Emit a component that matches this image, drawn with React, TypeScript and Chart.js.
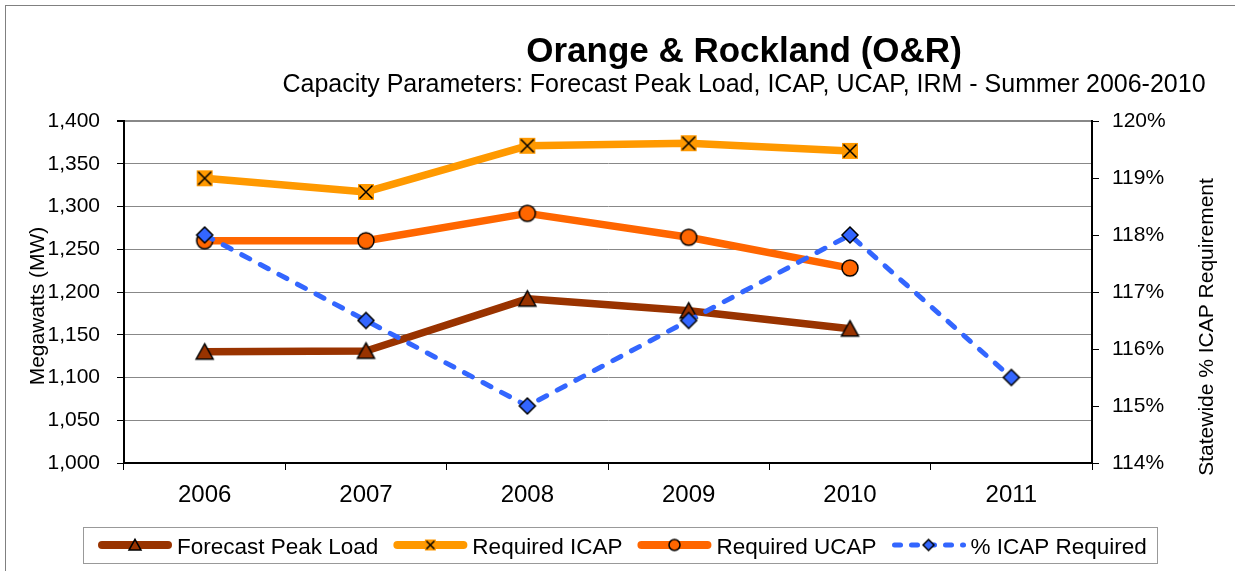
import React, { useEffect, useRef } from 'react';
import { Chart, registerables } from 'chart.js';

Chart.register(...registerables);

// ---------- data ----------
const categories = ['2006', '2007', '2008', '2009', '2010', '2011'];
const forecastPeakLoad = [1130, 1131, 1192, 1178, 1157, null];
const requiredICAP = [1333, 1317, 1371, 1374, 1365, null];
const requiredUCAP = [1260, 1260, 1292, 1264, 1228, null];
const icapRequiredPct = [118, 116.5, 115, 116.5, 118, 115.5];
const seriesNames = ['Forecast Peak Load', 'Required ICAP', 'Required UCAP', '% ICAP Required'];
const leftAxisRange = [1000, 1400];
const leftAxisStep = 50;
const rightAxisRange = [114, 120];
const rightAxisStep = 1;
const chartTitle = 'Orange & Rockland (O&R)';
const chartSubtitle = 'Capacity Parameters: Forecast Peak Load, ICAP, UCAP, IRM - Summer 2006-2010';
const leftAxisTitle = 'Megawatts (MW)';
const rightAxisTitle = 'Statewide % ICAP Requirement';

// ---------- style ----------
const FONT = '"Liberation Sans", Arial, Helvetica, sans-serif';
const BROWN = '#993300';
const ICAP_ORANGE = '#FF9900';
const UCAP_ORANGE = '#FF6600';
const BLUE = '#3366FF';
const W = 1235;
const H = 571;

type Kind = 'triangle' | 'squareX' | 'circle' | 'diamond';

function makeMarker(kind: Kind, size: number, fill: string, lw = 1.5): HTMLCanvasElement {
  const c = document.createElement('canvas');
  const dim = Math.ceil(size + 4);
  c.width = dim;
  c.height = dim;
  const ctx = c.getContext('2d')!;
  const cx = dim / 2;
  const cy = dim / 2;
  const h = size / 2;
  ctx.lineWidth = lw;
  ctx.strokeStyle = '#000';
  ctx.fillStyle = fill;
  ctx.lineJoin = 'miter';
  if (kind === 'triangle') {
    ctx.beginPath();
    ctx.moveTo(cx, cy - h * 0.95);
    ctx.lineTo(cx + h, cy + h * 0.85);
    ctx.lineTo(cx - h, cy + h * 0.85);
    ctx.closePath();
    ctx.fill();
    ctx.stroke();
  } else if (kind === 'circle') {
    ctx.beginPath();
    ctx.arc(cx, cy, h, 0, Math.PI * 2);
    ctx.fill();
    ctx.stroke();
  } else if (kind === 'diamond') {
    ctx.beginPath();
    ctx.moveTo(cx, cy - h);
    ctx.lineTo(cx + h, cy);
    ctx.lineTo(cx, cy + h);
    ctx.lineTo(cx - h, cy);
    ctx.closePath();
    ctx.fill();
    ctx.stroke();
  } else {
    ctx.fillRect(cx - h, cy - h, size, size);
    const k = h - 1.5;
    ctx.beginPath();
    ctx.moveTo(cx - k, cy - k);
    ctx.lineTo(cx + k, cy + k);
    ctx.moveTo(cx + k, cy - k);
    ctx.lineTo(cx - k, cy + k);
    ctx.stroke();
  }
  return c;
}

export default function App() {
  const ref = useRef<HTMLCanvasElement | null>(null);

  useEffect(() => {
    const canvas = ref.current;
    if (!canvas) return;

    const triImg = makeMarker('triangle', 17, BROWN);
    const xImg = makeMarker('squareX', 16, ICAP_ORANGE);
    const circImg = makeMarker('circle', 16, UCAP_ORANGE);
    const diaImg = makeMarker('diamond', 16, BLUE);

    const legendMarkers = [
      makeMarker('triangle', 12, BROWN),
      makeMarker('squareX', 11, ICAP_ORANGE),
      makeMarker('circle', 11, UCAP_ORANGE),
      makeMarker('diamond', 11, BLUE),
    ];
    const legendColors = [BROWN, ICAP_ORANGE, UCAP_ORANGE, BLUE];

    const decor = {
      id: 'decor',
      beforeDraw(chart: any) {
        const ctx = chart.ctx;
        ctx.save();
        ctx.fillStyle = '#fff';
        ctx.fillRect(0, 0, W, H);
        ctx.strokeStyle = '#808080';
        ctx.lineWidth = 1;
        ctx.strokeRect(5.5, 5.5, W + 100, H + 100);
        ctx.restore();
      },
      afterDraw(chart: any) {
        const ctx = chart.ctx;
        ctx.save();
        ctx.fillStyle = '#000';
        ctx.textAlign = 'center';
        ctx.textBaseline = 'alphabetic';
        ctx.font = `bold 35px ${FONT}`;
        ctx.fillText(chartTitle, 744, 62);
        ctx.font = `25px ${FONT}`;
        ctx.fillText(chartSubtitle, 744, 92);

        // axis titles
        ctx.font = `21px ${FONT}`;
        ctx.textBaseline = 'middle';
        ctx.save();
        ctx.translate(38, 306);
        ctx.rotate(-Math.PI / 2);
        ctx.fillText(leftAxisTitle, 0, 0);
        ctx.restore();
        ctx.save();
        ctx.translate(1207, 327);
        ctx.rotate(-Math.PI / 2);
        ctx.fillText(rightAxisTitle, 0, 0);
        ctx.restore();

        // legend
        ctx.strokeStyle = '#999';
        ctx.lineWidth = 1;
        ctx.strokeRect(83.5, 527.5, 1074, 36);
        ctx.font = `22.5px ${FONT}`;
        ctx.textAlign = 'left';
        ctx.textBaseline = 'alphabetic';
        let x = 98;
        const midY = 545;
        seriesNames.forEach((name, i) => {
          ctx.save();
          ctx.strokeStyle = legendColors[i];
          ctx.lineCap = 'round';
          if (i === 3) {
            ctx.lineWidth = 5;
            ctx.setLineDash([6, 11]);
            ctx.beginPath();
            ctx.moveTo(x + 3, midY);
            ctx.lineTo(x + 72, midY);
            ctx.stroke();
          } else {
            ctx.lineWidth = 8;
            ctx.beginPath();
            ctx.moveTo(x + 4, midY);
            ctx.lineTo(x + 70, midY);
            ctx.stroke();
          }
          ctx.restore();
          const m = legendMarkers[i];
          ctx.drawImage(m, x + 37 - m.width / 2, midY - m.height / 2);
          ctx.fillStyle = '#000';
          ctx.fillText(name, x + 79, 554);
          x = x + 79 + ctx.measureText(name).width + 15;
        });
        ctx.restore();
      },
    };

    const chart = new Chart(canvas, {
      type: 'line',
      data: {
        labels: categories,
        datasets: [
          {
            label: seriesNames[3],
            data: icapRequiredPct,
            yAxisID: 'y2',
            borderColor: BLUE,
            backgroundColor: BLUE,
            borderWidth: 5,
            borderDash: [9, 12],
            borderCapStyle: 'round',
            pointStyle: diaImg,
            pointRadius: 8,
            order: 0,
          },
          {
            label: seriesNames[0],
            data: forecastPeakLoad,
            yAxisID: 'y',
            borderColor: BROWN,
            backgroundColor: BROWN,
            borderWidth: 7.5,
            pointStyle: triImg,
            pointRadius: 8,
            order: 1,
          },
          {
            label: seriesNames[2],
            data: requiredUCAP,
            yAxisID: 'y',
            borderColor: UCAP_ORANGE,
            backgroundColor: UCAP_ORANGE,
            borderWidth: 7.5,
            pointStyle: circImg,
            pointRadius: 8,
            order: 2,
          },
          {
            label: seriesNames[1],
            data: requiredICAP,
            yAxisID: 'y',
            borderColor: ICAP_ORANGE,
            backgroundColor: ICAP_ORANGE,
            borderWidth: 7.5,
            pointStyle: xImg,
            pointRadius: 8,
            order: 3,
          },
        ] as any,
      },
      options: {
        responsive: false,
        animation: false,
        devicePixelRatio: 1,
        layout: { padding: { top: 121, left: 0, right: 0, bottom: 0 } },
        plugins: {
          legend: { display: false },
          title: { display: false },
          tooltip: { enabled: false },
        },
        elements: { line: { tension: 0, borderJoinStyle: 'round' } },
        scales: {
          x: {
            offset: true,
            grid: {
              offset: true,
              drawOnChartArea: false,
              color: '#000',
              tickColor: '#000',
              tickLength: 7,
              lineWidth: 1,
            },
            border: { color: '#000', width: 2 },
            ticks: {
              font: { size: 24, family: FONT },
              color: '#000',
              padding: 11,
              maxRotation: 0,
              autoSkip: false,
            },
            afterFit: (s: any) => {
              s.height = 108;
            },
          },
          y: {
            position: 'left',
            min: leftAxisRange[0],
            max: leftAxisRange[1],
            ticks: {
              stepSize: leftAxisStep,
              font: { size: 21, family: FONT },
              color: '#000',
              padding: 17,
              callback: (v: any) => Number(v).toLocaleString('en-US'),
            },
            grid: {
              color: (c: any) => (c.tick && c.tick.value === leftAxisRange[0] ? 'rgba(0,0,0,0)' : '#888'),
              lineWidth: (c: any) => (c.tick && c.tick.value === leftAxisRange[1] ? 2 : 1),
              tickColor: '#000',
              tickLength: 7,
            },
            border: { color: '#000', width: 2 },
            afterFit: (s: any) => {
              s.width = 124;
            },
          },
          y2: {
            position: 'right',
            min: rightAxisRange[0],
            max: rightAxisRange[1],
            ticks: {
              stepSize: rightAxisStep,
              font: { size: 21, family: FONT },
              color: '#000',
              padding: 13,
              callback: (v: any) => `${v}%`,
            },
            grid: {
              drawOnChartArea: false,
              color: '#000',
              tickColor: '#000',
              tickLength: 7,
            },
            border: { color: '#000', width: 2 },
            afterFit: (s: any) => {
              s.width = 143;
            },
          },
        },
      } as any,
      plugins: [decor],
    });

    return () => {
      chart.destroy();
    };
  }, []);

  return (
    <div style={{ position: 'fixed', left: 0, top: 0, width: W, height: H, background: '#fff' }}>
      <canvas ref={ref} width={W} height={H} style={{ display: 'block', width: W, height: H }} />
    </div>
  );
}
